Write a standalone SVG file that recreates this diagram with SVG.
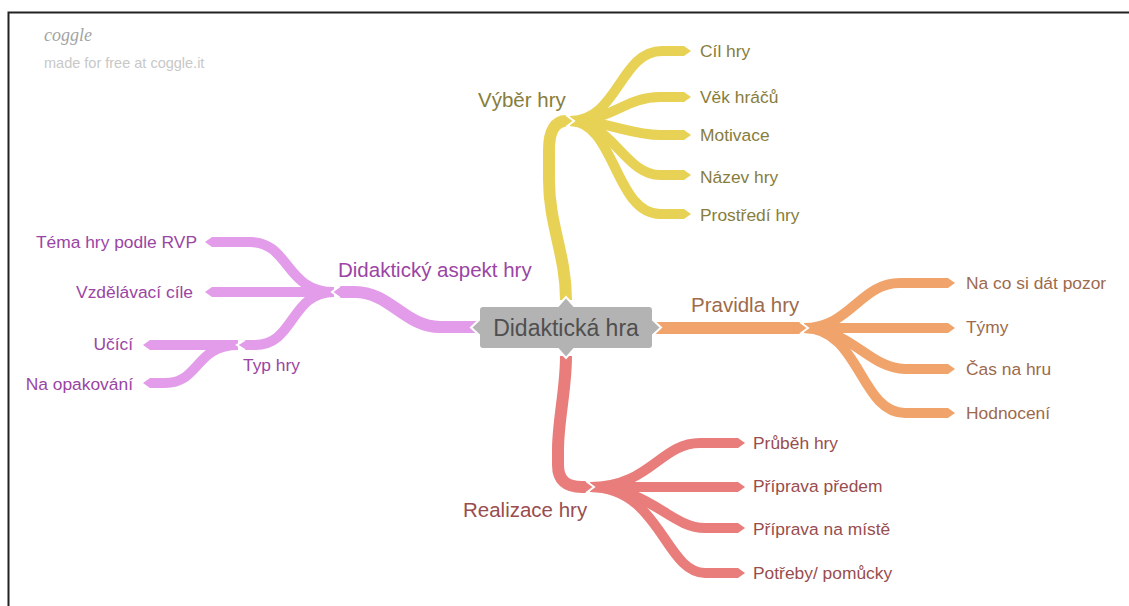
<svg xmlns="http://www.w3.org/2000/svg" width="1129" height="606" viewBox="0 0 1129 606">
<style>
.br{fill:none;stroke-linecap:butt;stroke-linejoin:round}
.y{stroke:#e8d255}.o{stroke:#f0a46c}.r{stroke:#e87d7b}.p{stroke:#e39ce9}
.m{stroke-width:12}.c{stroke-width:10}
text{font-family:"Liberation Sans",Arial,sans-serif}
.lf{font-size:17.4px}.mn{font-size:20.5px}
.ty{fill:#877d3c}.to{fill:#9d6a4c}.tr{fill:#984d4e}.tp{fill:#9a45a4}
.tip{stroke:#fff;stroke-width:2}
</style>
<defs>
<marker id="ay" viewBox="0 -0.5 0.7 1" refX="0" refY="0" markerWidth="0.7" markerHeight="1" orient="auto"><path d="M0,-0.5L0.7,0L0,0.5Z" fill="#e8d255"/></marker>
<marker id="ao" viewBox="0 -0.5 0.7 1" refX="0" refY="0" markerWidth="0.7" markerHeight="1" orient="auto"><path d="M0,-0.5L0.7,0L0,0.5Z" fill="#f0a46c"/></marker>
<marker id="ar" viewBox="0 -0.5 0.7 1" refX="0" refY="0" markerWidth="0.7" markerHeight="1" orient="auto"><path d="M0,-0.5L0.7,0L0,0.5Z" fill="#e87d7b"/></marker>
<marker id="ap" viewBox="0 -0.5 0.7 1" refX="0" refY="0" markerWidth="0.7" markerHeight="1" orient="auto"><path d="M0,-0.5L0.7,0L0,0.5Z" fill="#e39ce9"/></marker>
</defs>
<rect width="1129" height="606" fill="#fff"/>
<path d="M8.5,606V12.5H1129" fill="none" stroke="#222" stroke-width="2"/>
<text x="44" y="41" font-size="18" fill="#a3a3a3" font-style="italic" style="font-family:'Liberation Serif',serif">coggle</text>
<text x="44" y="68" font-size="14.5" fill="#c8c8c8">made for free at coggle.it</text>

<g id="connectors">
  <!-- yellow -->
  <path class="br y c" marker-end="url(#ay)" d="M570,121C618,121 620,51 662,51L684,51"/>
  <path class="br y c" marker-end="url(#ay)" d="M570,121C612,121 625,97 660,97L684,97"/>
  <path class="br y c" marker-end="url(#ay)" d="M570,121C608,121 630,135 660,135L684,135"/>
  <path class="br y c" marker-end="url(#ay)" d="M570,121C612,121 625,175 660,175L684,175"/>
  <path class="br y c" marker-end="url(#ay)" d="M570,121C615,121 615,214 660,214L684,214"/>
  <path class="br y m" d="M566,300C566,255 549,225 549,180L549,150C549,130 556,121 566,121"/>
  <path class="tip" fill="#e8d255" d="M566,115L574,121L566,127"/>
  <!-- orange -->
  <path class="br o c" marker-end="url(#ao)" d="M804,328C850,328 860,283 900,283L948,283"/>
  <path class="br o c" marker-end="url(#ao)" d="M804,328L948,328"/>
  <path class="br o c" marker-end="url(#ao)" d="M804,328C850,328 870,369 905,369L948,369"/>
  <path class="br o c" marker-end="url(#ao)" d="M804,328C860,328 860,413 905,413L948,413"/>
  <path class="br o m" d="M655,328L800,328"/>
  <path class="tip" fill="#f0a46c" d="M800,322L808,328L800,334"/>
  <!-- red -->
  <path class="br r c" marker-end="url(#ar)" d="M590,487C650,487 660,443 700,443L738,443"/>
  <path class="br r c" marker-end="url(#ar)" d="M590,487L738,487"/>
  <path class="br r c" marker-end="url(#ar)" d="M590,487C650,487 670,528 705,528L738,528"/>
  <path class="br r c" marker-end="url(#ar)" d="M590,487C660,487 665,573 705,573L738,573"/>
  <path class="br r m" d="M566,356C566,390 558,420 558,450L558,465C558,480 566,487 582,487L586,487"/>
  <path class="tip" fill="#e87d7b" d="M586,481L594,487L586,493"/>
  <!-- purple -->
  <path class="br p c" marker-end="url(#ap)" d="M334,292C285,292 290,242 250,242L212,242"/>
  <path class="br p c" marker-end="url(#ap)" d="M334,292L212,292"/>
  <path class="br p c" d="M334,292C290,292 295,345 255,345L244,345"/>
  <path class="br p c" marker-end="url(#ap)" d="M238,345L150,345"/>
  <path class="br p c" marker-end="url(#ap)" d="M238,345C195,345 200,383 165,383L150,383"/>
  <path class="tip" fill="#e39ce9" d="M245,340L237,345L245,350"/>
  <path class="br p m" d="M478,327L440,327C405,327 390,292 355,292L340,292"/>
  <path class="tip" fill="#e39ce9" d="M340,286L332,292L340,298"/>
</g>

<g id="center">
  <path d="M483,306L558,306L566,297L574,306L649,306Q653,306 653,310L653,320L661,327.5L653,335L653,345Q653,349 649,349L574,349L566,358L558,349L483,349Q479,349 479,345L479,335L471,327.5L479,320L479,310Q479,306 483,306Z" fill="#b3b3b3" stroke="#fff" stroke-width="2"/>
  <text x="566" y="336" font-size="23" fill="#4f4f4f" text-anchor="middle">Didaktická hra</text>
</g>

<g id="vyber"><text class="mn ty" x="478" y="107">Výběr hry</text></g>
<g id="cil"><text class="lf ty" x="700" y="57">Cíl hry</text></g>
<g id="vek"><text class="lf ty" x="700" y="103">Věk hráčů</text></g>
<g id="motivace"><text class="lf ty" x="700" y="141">Motivace</text></g>
<g id="nazev"><text class="lf ty" x="700" y="183">Název hry</text></g>
<g id="prostredi"><text class="lf ty" x="700" y="221">Prostředí hry</text></g>

<g id="pravidla"><text class="mn to" x="691" y="312">Pravidla hry</text></g>
<g id="pozor"><text class="lf to" x="966" y="289">Na co si dát pozor</text></g>
<g id="tymy"><text class="lf to" x="966" y="333">Týmy</text></g>
<g id="cas"><text class="lf to" x="966" y="375">Čas na hru</text></g>
<g id="hodnoceni"><text class="lf to" x="966" y="419">Hodnocení</text></g>

<g id="realizace"><text class="mn tr" x="463" y="517">Realizace hry</text></g>
<g id="prubeh"><text class="lf tr" x="753" y="449">Průběh hry</text></g>
<g id="predem"><text class="lf tr" x="753" y="492">Příprava předem</text></g>
<g id="miste"><text class="lf tr" x="753" y="535">Příprava na místě</text></g>
<g id="potreby"><text class="lf tr" x="753" y="579">Potřeby/ pomůcky</text></g>

<g id="didakticky"><text class="mn tp" x="338" y="277">Didaktický aspekt hry</text></g>
<g id="tema"><text class="lf tp" x="197" y="248" text-anchor="end">Téma hry podle RVP</text></g>
<g id="cile"><text class="lf tp" x="193" y="298" text-anchor="end">Vzdělávací cíle</text></g>
<g id="typ"><text class="lf tp" x="243" y="371">Typ hry</text></g>
<g id="ucici"><text class="lf tp" x="133" y="350" text-anchor="end">Učící</text></g>
<g id="opakovani"><text class="lf tp" x="133" y="390" text-anchor="end">Na opakování</text></g>
</svg>
